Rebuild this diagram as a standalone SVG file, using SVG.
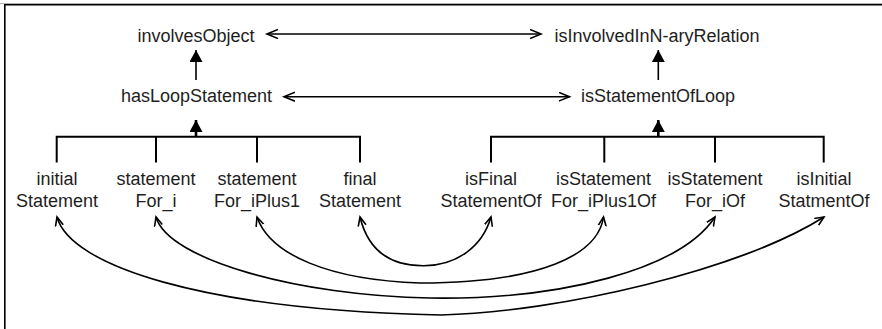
<svg xmlns="http://www.w3.org/2000/svg" width="882" height="329" viewBox="0 0 882 329">
<style>
text{font-family:"Liberation Sans",Arial,sans-serif;font-size:18px;fill:#1e1e1e;text-anchor:middle}
.c{fill:none;stroke:#000;stroke-width:1.6}
.b{fill:none;stroke:#000;stroke-width:2}
.t{fill:none;stroke:#000;stroke-width:2.6}
</style>
<defs>
<marker id="open" markerUnits="userSpaceOnUse" markerWidth="14" markerHeight="12" refX="11" refY="5" orient="auto-start-reverse" viewBox="0 0 14 12">
<path d="M0,0.5 L11,5 L0,9.5" fill="none" stroke="#000" stroke-width="1.6"/>
</marker>
<marker id="openS" markerUnits="userSpaceOnUse" markerWidth="12" markerHeight="12" refX="9" refY="5" orient="auto-start-reverse" viewBox="0 0 12 12">
<path d="M0,1 L9,5 L0,9" fill="none" stroke="#000" stroke-width="1.6"/>
</marker>
<marker id="tri" markerUnits="userSpaceOnUse" markerWidth="14" markerHeight="14" refX="12" refY="6.5" orient="auto" viewBox="0 0 14 14">
<path d="M0,0 L12,6.5 L0,13 z" fill="#000"/>
</marker>
</defs>
<g id="frame">
<line x1="0" y1="3.5" x2="882" y2="3.5" stroke="#b0b0b0" stroke-width="1"/>
<path d="M4.8,329 V4.8 H882" fill="none" stroke="#000" stroke-width="1.6"/>
</g>
<g id="n-involvesObject"><text x="196" y="41.5">involvesObject</text></g>
<g id="n-isInvolvedInNaryRelation"><text x="657" y="41.5">isInvolvedInN-aryRelation</text></g>
<g id="n-hasLoopStatement"><text x="196.5" y="102">hasLoopStatement</text></g>
<g id="n-isStatementOfLoop"><text x="658" y="102">isStatementOfLoop</text></g>
<g id="n-initialStatement"><text x="57" y="185">initial</text><text x="57" y="206.5">Statement</text></g>
<g id="n-statementFor_i"><text x="156" y="185">statement</text><text x="156" y="206.5">For_i</text></g>
<g id="n-statementFor_iPlus1"><text x="257" y="185">statement</text><text x="257" y="206.5">For_iPlus1</text></g>
<g id="n-finalStatement"><text x="360" y="185">final</text><text x="360" y="206.5">Statement</text></g>
<g id="n-isFinalStatementOf"><text x="491" y="185">isFinal</text><text x="491" y="206.5">StatementOf</text></g>
<g id="n-isStatementFor_iPlus1Of"><text x="603.5" y="185">isStatement</text><text x="603.5" y="206.5">For_iPlus1Of</text></g>
<g id="n-isStatementFor_iOf"><text x="715" y="185">isStatement</text><text x="715" y="206.5">For_iOf</text></g>
<g id="n-isInitialStatmentOf"><text x="824" y="185">isInitial</text><text x="824" y="206.5">StatmentOf</text></g>
<g id="connectors">
<line class="c" x1="267" y1="34" x2="541" y2="34" marker-start="url(#open)" marker-end="url(#open)"/>
<line class="c" x1="284" y1="96.7" x2="569.5" y2="96.7" marker-start="url(#open)" marker-end="url(#open)"/>
<line class="c" x1="196" y1="80" x2="196" y2="50" marker-end="url(#tri)"/>
<line class="c" x1="658.3" y1="80" x2="658.3" y2="50" marker-end="url(#tri)"/>
<line class="t" x1="196" y1="137" x2="196" y2="120" marker-end="url(#tri)"/>
<line class="t" x1="658.3" y1="137" x2="658.3" y2="120" marker-end="url(#tri)"/>
<path class="b" d="M56.7,162.5 V136.7 H360 V162.5 M156,136.7 V162.5 M257,136.7 V162.5"/>
<path class="b" d="M491,162.5 V136.7 H823.7 V162.5 M604.3,136.7 V162.5 M715,136.7 V162.5"/>
<path class="c" d="M57,217 C70,265 200,310 441,315 C560,312 740,270 824,217" marker-start="url(#openS)" marker-end="url(#openS)"/>
<path class="c" d="M156,217 C168,260 300,296 430,298 C560,300 680,270 715,217" marker-start="url(#openS)" marker-end="url(#openS)"/>
<path class="c" d="M257,217 C270,255 330,280 420,283 C540,283 598,255 603.5,217" marker-start="url(#openS)" marker-end="url(#openS)"/>
<path class="c" d="M360,217 C368,250 390,265.7 423,265.7 C455,266 482,248 491,217" marker-start="url(#openS)" marker-end="url(#openS)"/>
</g>
</svg>
